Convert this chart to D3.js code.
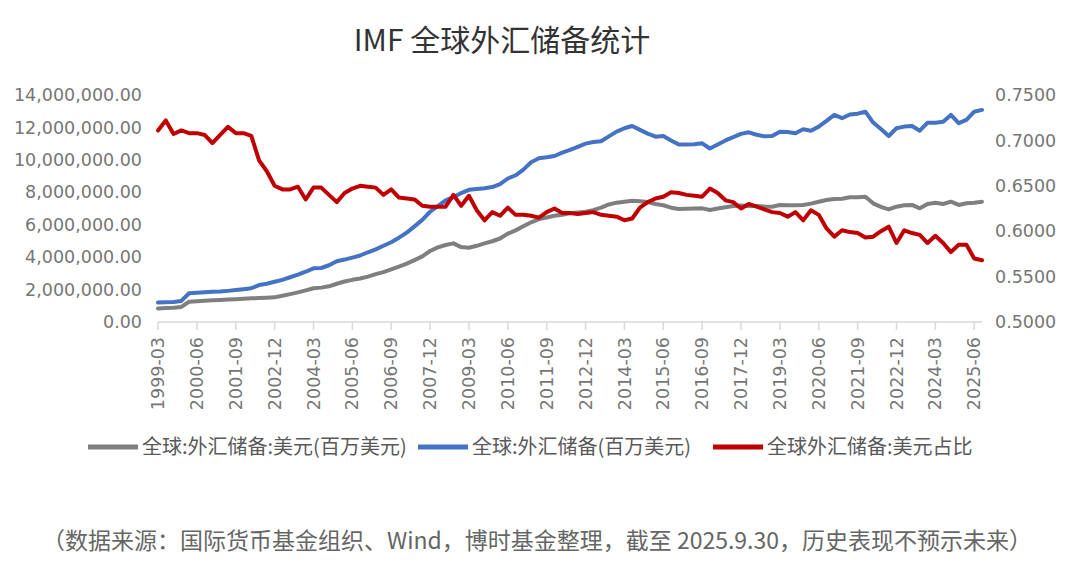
<!DOCTYPE html>
<html>
<head>
<meta charset="utf-8">
<script src="https://cdn.jsdelivr.net/npm/d3@7"></script>
<style>
  body { margin: 0; background: #fff; }
  svg { display: block; }
</style>
</head>
<body>
<svg id="chart" width="1080" height="570"></svg>
<script>
// quarterly categories 1999-03 .. 2025-09
const quarters = [];
for (let y = 1999; y <= 2025; y++) {
    for (const m of ['03', '06', '09', '12']) {
        if (y === 2025 && m === '12') break;
        quarters.push(`${y}-${m}`);
    }
}

const tickLabels = ['1999-03', '2000-06', '2001-09', '2002-12', '2004-03', '2005-06', '2006-09',
    '2007-12', '2009-03', '2010-06', '2011-09', '2012-12', '2014-03', '2015-06', '2016-09',
    '2017-12', '2019-03', '2020-06', '2021-09', '2022-12', '2024-03', '2025-06'];

// 全球:外汇储备:美元(百万美元)
const usdReserves = [
    840000, 860000, 880000, 930000, 1250000, 1280000, 1310000, 1340000, 1360000, 1390000,
    1410000, 1440000, 1460000, 1480000, 1500000, 1520000, 1620000, 1720000, 1830000, 1950000,
    2080000, 2120000, 2200000, 2360000, 2500000, 2600000, 2680000, 2800000, 2950000, 3080000,
    3250000, 3410000, 3600000, 3820000, 4050000, 4380000, 4600000, 4750000, 4850000, 4620000,
    4580000, 4700000, 4850000, 4980000, 5150000, 5450000, 5650000, 5900000, 6150000, 6350000,
    6450000, 6550000, 6620000, 6700000, 6750000, 6800000, 6900000, 7050000, 7250000, 7360000,
    7420000, 7480000, 7450000, 7400000, 7280000, 7200000, 7050000, 6970000, 6980000, 7000000,
    7010000, 6910000, 7000000, 7080000, 7160000, 7180000, 7160000, 7160000, 7120000, 7110000,
    7220000, 7200000, 7200000, 7220000, 7300000, 7420000, 7520000, 7580000, 7600000, 7690000,
    7700000, 7720000, 7320000, 7100000, 6950000, 7110000, 7200000, 7220000, 7010000, 7280000,
    7360000, 7280000, 7420000, 7220000, 7320000, 7360000, 7420000
];

// 全球:外汇储备(百万美元)
const totalReserves = [
    1200000, 1220000, 1240000, 1300000, 1770000, 1800000, 1830000, 1860000, 1880000, 1920000,
    1970000, 2020000, 2080000, 2280000, 2360000, 2480000, 2600000, 2760000, 2920000, 3100000,
    3310000, 3330000, 3500000, 3750000, 3850000, 3970000, 4100000, 4300000, 4480000, 4700000,
    4920000, 5200000, 5510000, 5900000, 6300000, 6800000, 7150000, 7500000, 7700000, 7950000,
    8150000, 8200000, 8250000, 8320000, 8500000, 8850000, 9050000, 9400000, 9850000, 10100000,
    10160000, 10240000, 10450000, 10610000, 10800000, 11000000, 11100000, 11150000, 11450000, 11740000,
    11950000, 12090000, 11850000, 11620000, 11430000, 11470000, 11200000, 10950000, 10940000, 10960000,
    11020000, 10700000, 10950000, 11200000, 11400000, 11600000, 11700000, 11550000, 11450000, 11470000,
    11740000, 11720000, 11640000, 11890000, 11800000, 12050000, 12400000, 12770000, 12570000, 12800000,
    12850000, 12970000, 12300000, 11900000, 11470000, 11950000, 12050000, 12090000, 11800000, 12290000,
    12290000, 12350000, 12770000, 12260000, 12460000, 12970000, 13080000
];

// 全球外汇储备:美元占比
const usdShare = [
    0.711, 0.722, 0.707, 0.711, 0.708, 0.708, 0.706, 0.697, 0.706, 0.715,
    0.708, 0.708, 0.705, 0.678, 0.666, 0.650, 0.646, 0.646, 0.649, 0.635,
    0.648, 0.648, 0.640, 0.632, 0.642, 0.647, 0.650, 0.649, 0.648, 0.640,
    0.646, 0.637, 0.636, 0.635, 0.628, 0.627, 0.627, 0.627, 0.640, 0.628,
    0.639, 0.623, 0.612, 0.621, 0.617, 0.626, 0.618, 0.618, 0.617, 0.615,
    0.621, 0.625, 0.620, 0.620, 0.619, 0.620, 0.621, 0.618, 0.617, 0.616,
    0.612, 0.614, 0.626, 0.632, 0.636, 0.638, 0.643, 0.642, 0.640, 0.639,
    0.638, 0.647, 0.642, 0.634, 0.632, 0.625, 0.630, 0.627, 0.624, 0.621,
    0.620, 0.616, 0.621, 0.612, 0.623, 0.618, 0.603, 0.594, 0.601, 0.599,
    0.598, 0.593, 0.594, 0.600, 0.605, 0.587, 0.601, 0.598, 0.596, 0.587,
    0.595, 0.587, 0.577, 0.585, 0.585, 0.570, 0.568
];

const leftTicks = [0, 2e6, 4e6, 6e6, 8e6, 10e6, 12e6, 14e6];
const rightTicks = [0.5, 0.55, 0.6, 0.65, 0.7, 0.75];

const series = [
    { name: '全球:外汇储备:美元(百万美元)', values: usdReserves, axis: 'left', color: '#7f7f7f' },
    { name: '全球:外汇储备(百万美元)', values: totalReserves, axis: 'left', color: '#4472c4' },
    { name: '全球外汇储备:美元占比', values: usdShare, axis: 'right', color: '#c00000' }
];

const svg = d3.select('#chart');
const labelFont = '"DejaVu Sans", sans-serif';
const cjkFont = '"Noto Sans CJK SC", "Noto Sans", sans-serif';

const x = d3.scalePoint().domain(quarters).range([158, 982]);
const yLeft = d3.scaleLinear().domain([0, 14e6]).range([322, 95]);
const yRight = d3.scaleLinear().domain([0.5, 0.75]).range([322, 95]);

// title
svg.append('text')
    .attr('x', 502).attr('y', 51)
    .attr('text-anchor', 'middle')
    .style('font-family', cjkFont)
    .style('font-size', '30px')
    .style('fill', '#333')
    .text('IMF 全球外汇储备统计');

// left axis labels
svg.append('g').selectAll('text')
    .data(leftTicks)
    .enter().append('text')
    .attr('x', 142)
    .attr('y', d => yLeft(d))
    .attr('dy', '0.35em')
    .attr('text-anchor', 'end')
    .style('font-family', labelFont)
    .style('font-size', '17.5px')
    .style('fill', '#767676')
    .text(d => d3.format(',.2f')(d));

// right axis labels
svg.append('g').selectAll('text')
    .data(rightTicks)
    .enter().append('text')
    .attr('x', 995)
    .attr('y', d => yRight(d))
    .attr('dy', '0.35em')
    .style('font-family', labelFont)
    .style('font-size', '17.5px')
    .style('fill', '#767676')
    .text(d => d3.format('.4f')(d));

// category axis
const xAxis = svg.append('g');
xAxis.append('line')
    .attr('x1', x(quarters[0])).attr('x2', x(quarters[quarters.length - 1]))
    .attr('y1', 322).attr('y2', 322)
    .style('stroke', '#d9d9d9').style('stroke-width', 1.5);

xAxis.selectAll('.tick')
    .data(tickLabels)
    .enter().append('line')
    .attr('x1', d => x(d)).attr('x2', d => x(d))
    .attr('y1', 322).attr('y2', 330)
    .style('stroke', '#d9d9d9').style('stroke-width', 1.5);

xAxis.selectAll('.lbl')
    .data(tickLabels)
    .enter().append('text')
    .attr('transform', d => `translate(${x(d)},337) rotate(-90)`)
    .attr('dy', '0.35em')
    .attr('text-anchor', 'end')
    .style('font-family', labelFont)
    .style('font-size', '17.5px')
    .style('fill', '#767676')
    .text(d => d);

// lines
series.forEach(s => {
    const yScale = s.axis === 'left' ? yLeft : yRight;
    const line = d3.line()
        .x((d, i) => x(quarters[i]))
        .y(d => yScale(d));
    svg.append('path')
        .datum(s.values)
        .attr('d', line)
        .style('fill', 'none')
        .style('stroke', s.color)
        .style('stroke-width', 4)
        .style('stroke-linejoin', 'round')
        .style('stroke-linecap', 'round');
});

// legend
const legendX = [88, 418, 713];
const legend = svg.append('g').selectAll('g')
    .data(series)
    .enter().append('g')
    .attr('transform', (d, i) => `translate(${legendX[i]},447)`);

legend.append('line')
    .attr('x1', 0).attr('x2', 50)
    .style('stroke', d => d.color)
    .style('stroke-width', 5);

legend.append('text')
    .attr('x', 54)
    .attr('dy', '0.35em')
    .style('font-family', cjkFont)
    .style('font-size', '20px')
    .style('fill', '#595959')
    .text(d => d.name);

// footnote
svg.append('text')
    .attr('x', 537).attr('y', 541)
    .attr('dy', '0.35em')
    .attr('text-anchor', 'middle')
    .style('font-family', cjkFont)
    .style('font-size', '23px')
    .style('fill', '#666')
    .text('（数据来源：国际货币基金组织、Wind，博时基金整理，截至 2025.9.30，历史表现不预示未来）');
</script>
</body>
</html>
